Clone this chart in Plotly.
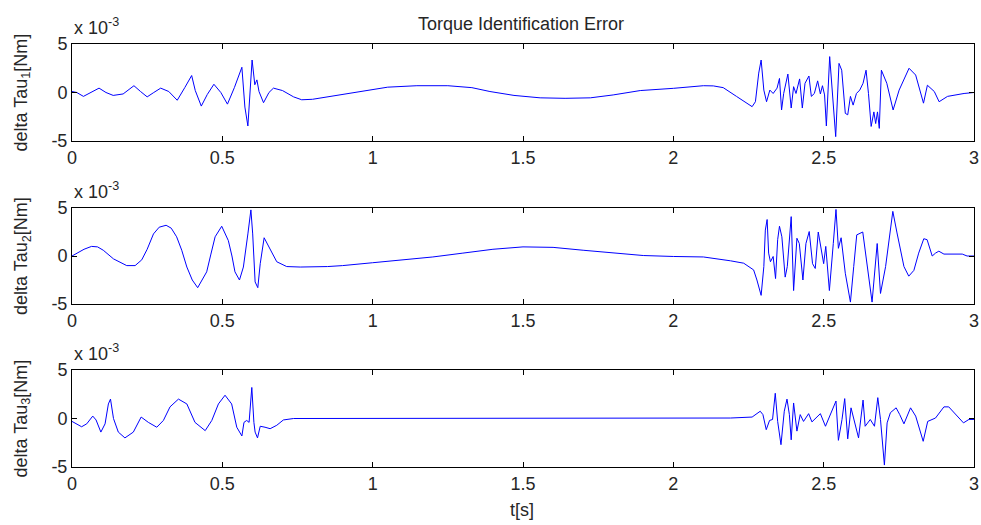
import plotly.graph_objects as go

# ---- data (values in units of 1e-3 Nm) ----
t1 = [0.0, 0.016, 0.038, 0.065, 0.09, 0.113, 0.137, 0.17, 0.206, 0.228, 0.25, 0.272, 0.295,
      0.322, 0.35, 0.375, 0.398, 0.41, 0.43, 0.45, 0.472, 0.495, 0.517, 0.54, 0.565, 0.575,
      0.585, 0.599, 0.608, 0.615, 0.622, 0.637, 0.655, 0.67, 0.7, 0.737, 0.764, 0.8, 0.85, 0.9,
      0.95, 1.0, 1.05, 1.147, 1.25, 1.33, 1.39, 1.47, 1.557, 1.64, 1.724, 1.8, 1.89, 2.0, 2.1,
      2.133, 2.166, 2.21, 2.262, 2.273, 2.284, 2.292, 2.301,
      2.31, 2.321, 2.332, 2.345, 2.353, 2.36, 2.367, 2.381, 2.392, 2.4, 2.408, 2.42, 2.429, 2.438,
      2.451, 2.459, 2.469, 2.48, 2.489, 2.496, 2.503, 2.509, 2.52, 2.529, 2.54, 2.551, 2.56, 2.572,
      2.58, 2.589, 2.598, 2.609, 2.62, 2.631, 2.641, 2.649, 2.658, 2.667, 2.673, 2.679, 2.685,
      2.692, 2.71, 2.731, 2.751, 2.784, 2.806, 2.832, 2.845, 2.868, 2.884, 2.912, 2.967, 3.0]
tau1 = [0.1, 0.0, -0.4, 0.0, 0.45, 0.0, -0.3, -0.15, 0.7, 0.1, -0.45, 0.0, 0.45,
        0.1, -0.8, 0.5, 1.75, 0.2, -1.4, -0.2, 0.85, 0.0, -1.2, 0.5, 2.6, -1.5,
        -3.45, 3.35, 0.8, 1.3, 0.1, -1.05, 0.0, 0.45, 0.2, -0.45, -0.75, -0.7, -0.45, -0.2,
        0.1, 0.35, 0.55, 0.7, 0.7, 0.5, 0.1, -0.3, -0.55, -0.6, -0.55, -0.25, 0.2, 0.43, 0.7,
        0.68, 0.5, -0.4, -1.46, -0.95, 2.0, 3.35, 0.25,
        -0.95, 0.25, -0.1, 0.45, 1.45, -1.8, -0.1, 1.9, -1.6, 0.6, -0.1, 1.4, -1.6, 0.95,
        1.7, -0.4, -0.1, 1.2, -0.15, 0.7, -0.25, -3.45, 3.7, 0.25, -4.55, 3.0, 2.3, -2.15,
        -2.3, -0.4, -1.3, -0.1, 0.25, 0.95, 2.3, -0.1, -3.5, -2.0, -3.2, -2.0, -3.7,
        2.3, 0.95, -1.8, 0.25, 2.5, 1.8, -1.1, 0.75, 0.1, -0.95, -0.4, -0.1, 0.0]

t2 = [0.0, 0.016, 0.04, 0.065, 0.085, 0.104, 0.138, 0.182, 0.21, 0.232, 0.25, 0.271, 0.29,
      0.313, 0.33, 0.348, 0.365, 0.382, 0.4, 0.418,
      0.448, 0.462, 0.476, 0.498, 0.52, 0.532, 0.542, 0.557, 0.57, 0.585, 0.595, 0.601, 0.609,
      0.618, 0.626, 0.639, 0.659, 0.681, 0.714, 0.759, 0.85, 0.9, 1.0, 1.1, 1.2, 1.3, 1.4, 1.5,
      1.6, 1.7, 1.8, 1.9, 2.0, 2.1, 2.19, 2.234, 2.267, 2.278, 2.292, 2.301, 2.306, 2.312, 2.317,
      2.323, 2.332, 2.34, 2.347, 2.353, 2.361, 2.372, 2.379, 2.392, 2.4, 2.411, 2.419, 2.431,
      2.441, 2.452, 2.463, 2.472, 2.482, 2.493, 2.5, 2.507, 2.519, 2.532, 2.541, 2.549, 2.558,
      2.572, 2.589, 2.6, 2.61, 2.63, 2.645, 2.661, 2.678, 2.689, 2.706, 2.73, 2.744, 2.767,
      2.783, 2.8, 2.816, 2.833, 2.844, 2.861, 2.872, 2.883, 2.9, 2.961, 2.977, 3.0]
tau2 = [0.0, 0.3, 0.7, 1.0, 0.95, 0.6, -0.3, -1.0, -1.0, -0.4, 0.7, 2.3, 3.0,
        3.2, 2.9, 2.0, 0.6, -1.15, -2.5, -3.3,
        -1.65, 0.2, 2.0, 3.1, 1.6, 0.0, -1.65, -2.5, -1.15, 2.3, 4.8, 2.3, -2.7,
        -3.3, -0.8, 1.9, 0.75, -0.6, -1.1, -1.15, -1.1, -1.0, -0.7, -0.4, -0.1, 0.3, 0.7, 0.95,
        0.9, 0.6, 0.3, 0.05, -0.05, -0.1, -0.5, -0.75, -1.45, -2.5, -4.1, -1.1, 2.7, 3.8, 0.3,
        -0.6, -0.05, -2.35, 1.7, 3.1, 2.0, -2.2, -1.1, 4.1, -3.6, 1.85, 1.3, -2.5,
        1.3, 2.55, -0.8, -1.3, 2.5, 0.6, -0.8, 1.0, -3.6, 1.3, 4.85, 0.8, 1.9,
        -1.8, -4.8, -1.1, 2.2, 2.5, -1.1, -4.8, 1.3, -3.9, -1.1, 4.65, 2.4, -1.1,
        -2.1, -1.5, 0.3, 1.8, 1.7, 0.0, 0.3, 0.5, 0.2, 0.2, 0.0, 0.0]

t3 = [0.0, 0.032, 0.049, 0.069, 0.08, 0.096, 0.11, 0.121, 0.128, 0.138, 0.154, 0.176, 0.204,
      0.23, 0.254, 0.282, 0.304, 0.326, 0.354, 0.382, 0.409, 0.443, 0.465, 0.487, 0.509, 0.531,
      0.548, 0.565, 0.572, 0.581, 0.589, 0.598, 0.605, 0.609, 0.617, 0.626, 0.642, 0.659, 0.681,
      0.703, 0.737, 0.792, 1.5, 2.19, 2.262, 2.289, 2.298, 2.309, 2.32, 2.33, 2.339, 2.347,
      2.358, 2.369, 2.378, 2.386, 2.392, 2.4, 2.411, 2.422, 2.433, 2.45, 2.461, 2.489, 2.506,
      2.522, 2.541, 2.549, 2.561, 2.57, 2.58, 2.591, 2.605, 2.616, 2.631, 2.638, 2.655, 2.669,
      2.68, 2.689, 2.702, 2.711, 2.722, 2.741, 2.753, 2.767, 2.789, 2.806, 2.831, 2.846, 2.872,
      2.9, 2.916, 2.939, 2.965, 2.983, 3.0]
tau3 = [-0.3, -0.85, -0.55, 0.25, -0.15, -1.4, -0.55, 1.5, 2.0, 0.0, -1.4, -2.0, -1.4,
        0.15, -0.4, -0.9, -0.2, 1.2, 2.0, 1.5, -0.4, -1.25, -0.2, 1.5, 2.4, 1.5,
        -0.9, -1.8, -0.4, -0.2, -0.4, 3.2, -0.4, -1.4, -2.0, -0.8, -0.9, -1.05, -0.7,
        -0.15, 0.0, 0.0, 0.0, 0.05, 0.15, 0.75, 0.4, -1.15, -0.2, -0.1, 2.6, -0.3,
        -2.7, 0.75, 2.0, 0.4, -2.2, 1.6, -1.3, 0.4, -0.3, 0.5, -0.35, 0.5, -0.8,
        0.4, 1.8, -2.25, -0.1, 2.05, -2.1, 1.1, -0.6, -2.0, 1.9, -0.8, -0.1, -0.8,
        2.15, -0.1, -4.8, -0.45, 0.6, 1.1, 0.4, -0.55, 1.1, 0.25, -2.35, -0.3, 0.05,
        1.2, 1.2, 0.4, -0.45, -0.1, -0.1]

x_ticks = [0, 0.5, 1, 1.5, 2, 2.5, 3]
x_tick_labels = ["0", "0.5", "1", "1.5", "2", "2.5", "3"]
y_ticks = [-5, 0, 5]
y_tick_labels = ["-5", "0", "5"]
y_titles = ["delta Tau<sub>1</sub>[Nm]", "delta Tau<sub>2</sub>[Nm]", "delta Tau<sub>3</sub>[Nm]"]
title_text = "Torque Identification Error"
x_title = "t[s]"

series = [(t1, tau1), (t2, tau2), (t3, tau3)]
SCALE = 1e-3

# ---- figure ----
fig = go.Figure()
ML, MR, MT, MB = 72, 7, 44, 58
W, H = 981, 525
PW, PH = W - ML - MR, H - MT - MB
domains = [[(467 - 141) / PH, 1.0],
           [(467 - 304) / PH, (467 - 208) / PH],
           [0.0, (467 - 370) / PH]]

FONT = "Liberation Sans, Arial, sans-serif"
TXT = "#262626"
FS = 18
for i, (tx, ty) in enumerate(series):
    n = "" if i == 0 else str(i + 1)
    fig.add_trace(go.Scatter(x=tx, y=[v * SCALE for v in ty], mode="lines",
                             line=dict(color="#0000ff", width=1),
                             xaxis="x" + n, yaxis="y" + n, showlegend=False,
                             hoverinfo="x+y"))
    ax_common = dict(showline=True, linecolor="black", linewidth=1, mirror="ticks",
                     ticks="inside", ticklen=5, tickcolor="black", showgrid=False,
                     zeroline=False, automargin=False, ticklabeloverflow="allow",
                     tickfont=dict(size=FS, color=TXT, family=FONT))
    fig.layout["xaxis" + n] = dict(ax_common, domain=[0, 1], range=[0, 3],
                                   tickvals=x_ticks, ticktext=x_tick_labels,
                                   anchor="y" + n)
    fig.layout["yaxis" + n] = dict(ax_common, domain=domains[i], range=[-5 * SCALE, 5 * SCALE],
                                   tickvals=[v * SCALE for v in y_ticks], ticktext=y_tick_labels,
                                   anchor="x" + n)
    fig.add_annotation(text="x 10<sup>-3</sup>", xref="x" + n + " domain", yref="y" + n + " domain",
                       x=0, y=1, xanchor="left", yanchor="bottom", yshift=4, showarrow=False,
                       font=dict(size=FS, color=TXT, family=FONT))
    fig.add_annotation(text=y_titles[i], xref="paper", yref="y" + n + " domain",
                       x=(22 - ML) / PW, y=0.5, xanchor="center", yanchor="middle",
                       textangle=-90, showarrow=False,
                       font=dict(size=FS, color=TXT, family=FONT))

fig.add_annotation(text=x_title, xref="paper", yref="paper", x=(522 - ML) / PW,
                   y=(467 - 510) / PH, xanchor="center", yanchor="middle", showarrow=False,
                   font=dict(size=FS, color=TXT, family=FONT))

fig.add_annotation(text=title_text, xref="paper", yref="paper", x=(521 - ML) / PW,
                   y=(467 - 24) / PH, xanchor="center", yanchor="middle", showarrow=False,
                   font=dict(size=FS, color=TXT, family=FONT))

fig.update_layout(width=W, height=H, margin=dict(l=ML, r=MR, t=MT, b=MB),
                  plot_bgcolor="white", paper_bgcolor="white", showlegend=False,
                  font=dict(family=FONT, size=FS, color=TXT))

fig.write_html("out.html", config={"displayModeBar": False},
               post_script="document.body.style.margin='0px';document.body.style.overflow='hidden';")
